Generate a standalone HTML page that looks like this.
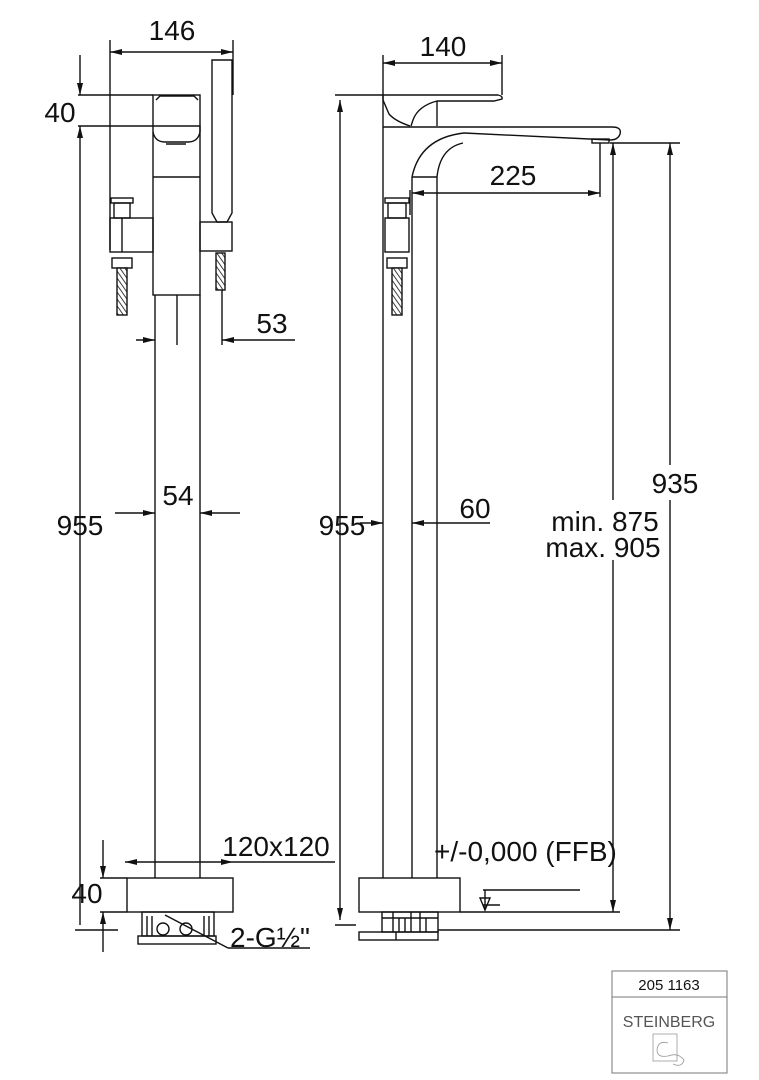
<!DOCTYPE html>
<html><head><meta charset="utf-8"><style>
html,body{margin:0;padding:0;background:#fff}
svg{display:block}
text{font-family:"Liberation Sans",Arial,sans-serif;fill:#111}
</style></head><body>
<svg width="759" height="1080" viewBox="0 0 759 1080" xmlns="http://www.w3.org/2000/svg">
<defs>
<marker id="a" viewBox="0 0 12 6" refX="12" refY="3" markerWidth="12" markerHeight="6" orient="auto-start-reverse" markerUnits="userSpaceOnUse"><path d="M0,0 L12,3 L0,6 z" fill="#111"/></marker>
<pattern id="h" width="4" height="4" patternUnits="userSpaceOnUse" patternTransform="rotate(-35)"><rect width="4" height="4" fill="#fff"/><line x1="0" y1="0" x2="0" y2="4" stroke="#111" stroke-width="1.6"/></pattern>
</defs>
<g stroke="#111" stroke-width="1.4" fill="none">
<!-- LEFT VIEW -->
<line x1="110" y1="40" x2="110" y2="250"/>
<line x1="233" y1="40" x2="233" y2="95"/>
<line x1="110" y1="52" x2="233" y2="52" marker-start="url(#a)" marker-end="url(#a)"/>
<line x1="78" y1="95" x2="153" y2="95"/>
<line x1="78" y1="126" x2="153" y2="126"/>
<line x1="80" y1="55" x2="80" y2="95" marker-end="url(#a)"/>
<line x1="80" y1="925" x2="80" y2="126" marker-end="url(#a)"/>
<line x1="75" y1="930" x2="118" y2="930"/>
<rect x="153" y="95" width="47" height="200"/>
<line x1="153" y1="177" x2="200" y2="177"/>
<path d="M156,100 L160,96 L194,96 L198,100"/>
<path d="M153,126 L200,126 L200,132 Q198,142 188,142 L165,142 Q155,142 153,132"/>
<line x1="166" y1="144" x2="186" y2="144"/>
<line x1="155" y1="295" x2="155" y2="878"/>
<line x1="200" y1="295" x2="200" y2="878"/>
<line x1="177" y1="295" x2="177" y2="345"/>
<!-- hand shower -->
<path d="M212,60 L232,60 L232,213 L227,222 L217,222 L212,213 Z"/>
<rect x="200" y="222" width="32" height="29"/>
<rect x="216" y="253" width="9" height="37" fill="url(#h)"/>
<line x1="222" y1="290" x2="222" y2="345"/>
<!-- left connector -->
<rect x="111" y="198" width="22" height="5"/>
<rect x="114" y="203" width="16" height="15"/>
<rect x="110" y="218" width="43" height="34"/>
<line x1="122" y1="218" x2="122" y2="252"/>
<rect x="112" y="258" width="20" height="10"/>
<rect x="117" y="268" width="10" height="47" fill="url(#h)"/>
<!-- 53 -->
<line x1="136" y1="340" x2="155" y2="340" marker-end="url(#a)"/>
<line x1="295" y1="340" x2="222" y2="340" marker-end="url(#a)"/>
<!-- 54 -->
<line x1="115" y1="513" x2="155" y2="513" marker-end="url(#a)"/>
<line x1="240" y1="513" x2="200" y2="513" marker-end="url(#a)"/>
<!-- base left -->
<line x1="125" y1="862" x2="233" y2="862" marker-start="url(#a)" marker-end="url(#a)"/>
<line x1="233" y1="862" x2="335" y2="862"/>
<rect x="127" y="878" width="106" height="34"/>
<line x1="100" y1="878" x2="127" y2="878"/>
<line x1="100" y1="912" x2="127" y2="912"/>
<line x1="103" y1="840" x2="103" y2="878" marker-end="url(#a)"/>
<line x1="103" y1="952" x2="103" y2="912" marker-end="url(#a)"/>
<rect x="142" y="912" width="72" height="24"/>
<line x1="147" y1="916" x2="147" y2="936"/><line x1="152" y1="916" x2="152" y2="936"/>
<line x1="204" y1="916" x2="204" y2="936"/><line x1="209" y1="916" x2="209" y2="936"/>
<circle cx="163" cy="929" r="6"/><circle cx="186" cy="929" r="6"/>
<rect x="138" y="936" width="78" height="8"/>
<line x1="165" y1="915" x2="228" y2="948"/>
<line x1="228" y1="948" x2="310" y2="948"/>
<!-- RIGHT VIEW -->
<line x1="383" y1="55" x2="383" y2="126"/>
<line x1="502" y1="55" x2="502" y2="95"/>
<line x1="383" y1="63" x2="502" y2="63" marker-start="url(#a)" marker-end="url(#a)"/>
<line x1="335" y1="95" x2="498" y2="95"/>
<path d="M498,95 Q503,96 502,99 L494,101 L437,101 Q418,106 413,120 L411,126"/>
<path d="M437,101 L437,126"/>
<path d="M383,95 L383,100 L389,114 Q395,121 410,126"/>
<line x1="340" y1="100" x2="340" y2="920" marker-start="url(#a)" marker-end="url(#a)"/>
<line x1="335" y1="925" x2="356" y2="925"/>
<line x1="383" y1="127" x2="612" y2="127"/>
<path d="M612,127 Q622,127 620,134 Q618,140 610,140 L464,133"/>
<path d="M464,133 Q420,138 412,177"/>
<path d="M463,143 Q440,148 437,177"/>
<line x1="412" y1="177" x2="437" y2="177"/>
<rect x="592" y="139" width="17" height="4"/>
<line x1="383" y1="126" x2="383" y2="878"/>
<line x1="412" y1="177" x2="412" y2="878"/>
<line x1="437" y1="177" x2="437" y2="878"/>
<line x1="412" y1="193" x2="600" y2="193" marker-start="url(#a)" marker-end="url(#a)"/>
<line x1="600" y1="143" x2="600" y2="197"/>
<line x1="610" y1="143" x2="680" y2="143"/>
<line x1="613" y1="500" x2="613" y2="143" marker-end="url(#a)"/>
<line x1="613" y1="560" x2="613" y2="912" marker-end="url(#a)"/>
<line x1="670" y1="465" x2="670" y2="143" marker-end="url(#a)"/>
<line x1="670" y1="500" x2="670" y2="930" marker-end="url(#a)"/>
<!-- right connector -->
<line x1="410" y1="190" x2="410" y2="215"/>
<rect x="385" y="198" width="24" height="5"/>
<rect x="388" y="203" width="18" height="15"/>
<rect x="385" y="218" width="24" height="34"/>
<rect x="387" y="258" width="20" height="10"/>
<rect x="392" y="268" width="10" height="47" fill="url(#h)"/>
<!-- 60 -->
<line x1="360" y1="523" x2="383" y2="523" marker-end="url(#a)"/>
<line x1="490" y1="523" x2="412" y2="523" marker-end="url(#a)"/>
<!-- base right -->
<rect x="359" y="878" width="101" height="34"/>
<rect x="382" y="912" width="56" height="20"/>
<line x1="393" y1="912" x2="393" y2="932"/><line x1="399" y1="918" x2="399" y2="932"/><line x1="405" y1="918" x2="405" y2="932"/><line x1="411" y1="912" x2="411" y2="932"/><line x1="420" y1="912" x2="420" y2="932"/><line x1="426" y1="918" x2="426" y2="932"/>
<line x1="382" y1="918" x2="438" y2="918"/>
<rect x="359" y="932" width="79" height="8"/>
<line x1="396" y1="932" x2="396" y2="940"/>
<line x1="460" y1="912" x2="620" y2="912"/>
<line x1="438" y1="930" x2="680" y2="930"/>
<line x1="483" y1="890" x2="580" y2="890"/>
<line x1="483" y1="905" x2="500" y2="905"/>
<path d="M480,898 L490,898 L485,910 Z"/>
<line x1="485" y1="890" x2="485" y2="910"/>
</g>
<g font-size="28">
<text x="172" y="40" text-anchor="middle">146</text>
<text x="60" y="122" text-anchor="middle">40</text>
<text x="272" y="333" text-anchor="middle">53</text>
<text x="178" y="505" text-anchor="middle">54</text>
<text x="80" y="535" text-anchor="middle">955</text>
<text x="276" y="856" text-anchor="middle">120x120</text>
<text x="87" y="903" text-anchor="middle">40</text>
<text x="270" y="947" text-anchor="middle">2-G½"</text>
<text x="443" y="56" text-anchor="middle">140</text>
<text x="513" y="185" text-anchor="middle">225</text>
<text x="342" y="535" text-anchor="middle">955</text>
<text x="475" y="518" text-anchor="middle">60</text>
<text x="675" y="493" text-anchor="middle">935</text>
<text x="605" y="531" text-anchor="middle">min. 875</text>
<text x="603" y="557" text-anchor="middle">max. 905</text>
<text x="434" y="861">+/-0,000 (FFB)</text>
</g>
<!-- title block -->
<rect x="612" y="971" width="115" height="102" fill="none" stroke="#777" stroke-width="1"/>
<line x1="612" y1="997" x2="727" y2="997" stroke="#777" stroke-width="1"/>
<text x="669" y="990" font-size="15" text-anchor="middle">205 1163</text>
<text x="669" y="1027" font-size="16" text-anchor="middle" style="fill:#555">STEINBERG</text>
<rect x="653" y="1034" width="24" height="27" fill="none" stroke="#999" stroke-width="0.8"/>
<path d="M668,1043 Q658,1040 657,1050 Q657,1058 668,1056 Q678,1052 684,1060 Q682,1068 673,1064" fill="none" stroke="#999" stroke-width="0.8"/>
</svg>
</body></html>
